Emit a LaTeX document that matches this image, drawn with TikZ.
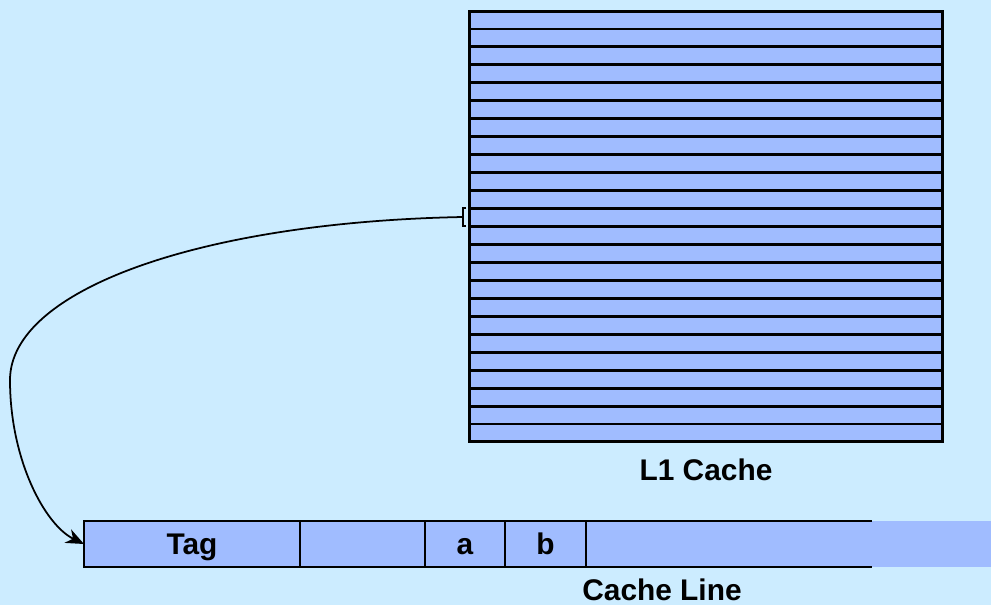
\documentclass[tikz,border=0pt]{standalone}
\usepackage{fontspec}
\setmainfont{Liberation Sans}
\usepackage{tikz}
\usetikzlibrary{arrows.meta, positioning, calc}
\definecolor{bgblue}{HTML}{CCECFF}
\definecolor{lineblue}{HTML}{A0BCFF}
\tikzset{
    cachebox/.style={rectangle, draw, line width=1.7pt, fill=lineblue, minimum width=9.48cm, minimum height=8.62cm, inner sep=0pt, outer sep=0pt},
    field/.style={rectangle, draw, line width=1.2pt, fill=lineblue, minimum height=0.92cm, inner sep=0pt, outer sep=0pt, anchor=west, text height=11.4pt, text depth=0pt, font=\bfseries\fontsize{17}{20}\selectfont},
    label/.style={font=\bfseries\fontsize{17}{20}\selectfont}
}

\begin{document}
\begin{tikzpicture}[x=0.02cm, y=-0.02cm, >={Stealth[length=3.6mm, width=3mm]}]
% L1 cache array and one of its lines pulled out below.
  \fill[bgblue] (0,0) rectangle (991,605);
  \useasboundingbox (0,0) rectangle (991,605);
  \node[cachebox] (cache) at (706,226.5) {};
  \foreach \i in {1,...,23}
    \draw[line width=1.7pt] ($(cache.north west)!\i/24!(cache.south west)$) -- ($(cache.north east)!\i/24!(cache.south east)$);
  \node[label] (l1) at (706,470) {L1 Cache};
  % the cache line
  \node[field, minimum width=4.32cm] (tag) at (84,544) {Tag};
  \node[field, minimum width=2.5cm] (f1) at (tag.east) {};
  \node[field, minimum width=1.6cm] (a) at (f1.east) {a};
  \node[field, minimum width=1.62cm] (b) at (a.east) {b};
  \node[field, minimum width=5.72cm, draw=none] (rest) at (b.east) {};
  \fill[lineblue] (rest.north east) rectangle (991,567);
  \draw[line width=1.2pt] (rest.north west) -- (rest.north east);
  \draw[line width=1.2pt] (rest.south west) -- (rest.south east);
  \draw[line width=1.2pt] (b.north east) -- (b.south east);
  \node[label] (cl) at (662,590) {Cache Line};
  % pointer from one cache row to the line
  \coordinate (brk) at (463,217);
  \draw[line width=1pt] (466,208) -- (463,208) -- (463,226) -- (466,226);
  \draw[->, line width=1pt] (brk) .. controls (200,222) and (10,290) .. (10,380)
    .. controls (10,460) and (45,525) .. (tag.west);
\end{tikzpicture}
\end{document}
